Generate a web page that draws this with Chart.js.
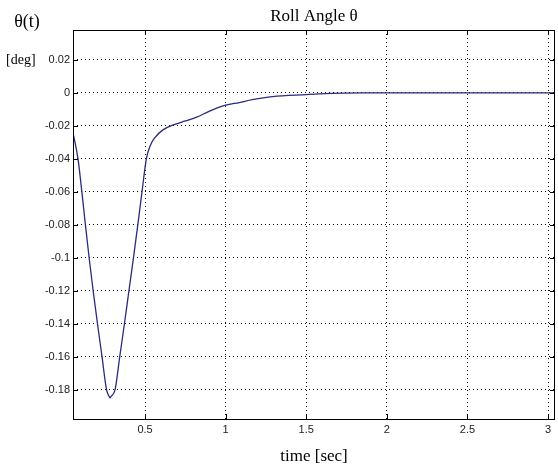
<!DOCTYPE html>
<html>
<head>
<meta charset="utf-8">
<script src="https://cdn.jsdelivr.net/npm/chart.js@4/dist/chart.umd.min.js"></script>
<style>
  html, body { margin: 0; padding: 0; background: #fff; }
  #wrap { width: 558px; height: 471px; position: relative; }
</style>
</head>
<body>
<div id="wrap"><canvas id="rollChart"></canvas></div>
<script>
// Roll angle response
const timeSec = [0.053, 0.084, 0.108, 0.130, 0.153, 0.178, 0.205, 0.233, 0.261, 0.278, 0.283, 0.288,
                 0.314, 0.343, 0.372, 0.400, 0.428, 0.455, 0.481, 0.508, 0.532, 0.56,
                 0.611, 0.675, 0.75, 0.82, 0.9, 1.0, 1.085, 1.165, 1.29, 1.5,
                 1.58, 1.85, 2.5, 3.05];
const thetaDeg = [-0.024, -0.04, -0.06, -0.08, -0.1, -0.12, -0.14, -0.16, -0.18, -0.1843, -0.185, -0.1843,
                  -0.18, -0.16, -0.14, -0.12, -0.1, -0.08, -0.06, -0.04, -0.032, -0.0272,
                  -0.0224, -0.0194, -0.017, -0.0147, -0.011, -0.0074, -0.0058, -0.0041, -0.0022, -0.001,
                  -0.0006, 0, 0, 0];
const xTicks = [0.5, 1, 1.5, 2, 2.5, 3];
const yTicks = [0.02, 0, -0.02, -0.04, -0.06, -0.08, -0.1, -0.12, -0.14, -0.16, -0.18];

const chartTitle = 'Roll Angle θ';
const yName = 'θ(t)';
const yUnit = '[deg]';
const xName = 'time [sec]';

const points = timeSec.map((t, i) => ({ x: t, y: thetaDeg[i] }));

// frame, inward tick marks and the serif labels
const matlabFrame = {
    id: 'matlabFrame',
    afterDraw(chart) {
        const ctx = chart.ctx;
        const a = chart.chartArea;
        const xs = chart.scales.x, ys = chart.scales.y;
        ctx.save();
        ctx.strokeStyle = '#000';
        ctx.lineWidth = 1;
        ctx.beginPath();
        xTicks.forEach(v => {
            const px = Math.round(xs.getPixelForValue(v)) + 0.5;
            ctx.moveTo(px, a.bottom); ctx.lineTo(px, a.bottom - 5);
            ctx.moveTo(px, a.top); ctx.lineTo(px, a.top + 5);
        });
        yTicks.forEach(v => {
            const py = Math.round(ys.getPixelForValue(v)) + 0.5;
            ctx.moveTo(a.left, py); ctx.lineTo(a.left + 5, py);
            ctx.moveTo(a.right, py); ctx.lineTo(a.right - 5, py);
        });
        ctx.stroke();
        ctx.strokeRect(Math.round(a.left) + 0.5, Math.round(a.top) + 0.5,
                       Math.round(a.right - a.left) - 1, Math.round(a.bottom - a.top));

        ctx.fillStyle = '#000';
        ctx.textBaseline = 'middle';
        ctx.textAlign = 'center';
        ctx.font = '17px "Liberation Serif", "Times New Roman", serif';
        ctx.fillText(chartTitle, (a.left + a.right) / 2, 17);
        ctx.fillText(xName, (a.left + a.right) / 2, 457);
        ctx.font = '18px "Liberation Serif", "Times New Roman", serif';
        ctx.fillText(yName, 27, 22);
        ctx.font = '14px "Liberation Serif", "Times New Roman", serif';
        ctx.textAlign = 'left';
        ctx.fillText(yUnit, 6, 60);
        ctx.restore();
    }
};

const dotted = { display: false, dash: [1, 3] };

new Chart(document.getElementById('rollChart'), {
    type: 'scatter',
    data: {
        datasets: [{
            data: points,
            showLine: true,
            borderColor: '#2a2a80',
            borderWidth: 1.3,
            pointRadius: 0,
            cubicInterpolationMode: 'monotone'
        }]
    },
    options: {
        responsive: true,
        maintainAspectRatio: false,
        animation: false,
        layout: { padding: { left: 0, top: 30, right: 3, bottom: 0 } },
        plugins: {
            legend: { display: false },
            tooltip: { enabled: false }
        },
        scales: {
            x: {
                type: 'linear',
                min: 0.053,
                max: 3.043,
                afterBuildTicks: s => { s.ticks = xTicks.map(v => ({ value: v })); },
                afterFit: s => { s.height = 52; },
                border: dotted,
                grid: { color: '#000', lineWidth: 1, drawTicks: false },
                ticks: {
                    padding: 4,
                    color: '#222',
                    font: { family: '"Liberation Sans", Arial, sans-serif', size: 11 },
                    callback: v => String(Number(v.toFixed(2)))
                }
            },
            y: {
                type: 'linear',
                min: -0.1978,
                max: 0.0382,
                afterBuildTicks: s => { s.ticks = yTicks.map(v => ({ value: v })); },
                afterFit: s => { s.width = 73; },
                border: dotted,
                grid: { color: '#000', lineWidth: 1, drawTicks: false },
                ticks: {
                    padding: 3,
                    color: '#222',
                    font: { family: '"Liberation Sans", Arial, sans-serif', size: 11 },
                    callback: v => String(Number(v.toFixed(2)))
                }
            }
        }
    },
    plugins: [matlabFrame]
});
</script>
</body>
</html>
